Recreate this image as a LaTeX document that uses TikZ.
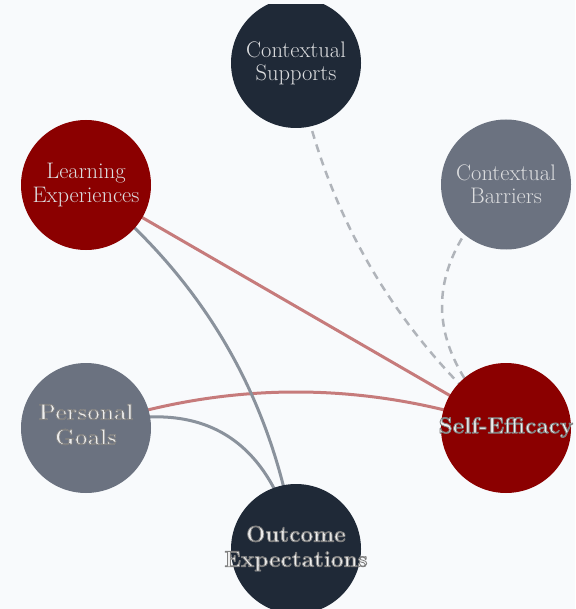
\documentclass[tikz,border=0pt]{standalone}
\definecolor{bg}{HTML}{F8FAFC}
\definecolor{navy}{HTML}{1F2937}
\definecolor{dred}{HTML}{8B0000}
\definecolor{slate}{HTML}{6B7280}
\definecolor{redline}{HTML}{C67B7B}
\definecolor{greyline}{HTML}{8A929C}
\definecolor{dashline}{HTML}{B0B4BA}
\definecolor{txt}{HTML}{DCDDDF}
\definecolor{boldtxt}{HTML}{EEEEEE}
\pgfdeclarelayer{bglayer}
\pgfdeclarelayer{edges}
\pgfsetlayers{bglayer,edges,main}
\newcommand{\haloon}{\special{pdf:literal direct 0.5 0.5 0.5 RG 0.8 w 1 j 2 Tr}}
\newcommand{\halooff}{\special{pdf:literal direct 0 Tr}}
\begin{document}
\begin{tikzpicture}[x=1pt,y=-1pt,
  nodecircle/.style={circle, minimum size=130pt, inner sep=0pt},
  plainlabel/.style={align=center, text=txt, font=\fontsize{22.5}{23.3}\selectfont, inner sep=0pt},
  boldlabel/.style={align=center, text=boldtxt, font=\fontsize{22.5}{25}\selectfont\bfseries, inner sep=0pt},
  redlink/.style={draw=redline, line width=3pt},
  greylink/.style={draw=greyline, line width=3pt},
  dashlink/.style={draw=dashline, line width=2.5pt, dash pattern=on 8pt off 6pt}]
\begin{pgfonlayer}{bglayer}
\fill[bg] (0,0) rectangle (575,609);
\end{pgfonlayer}
\useasboundingbox (0,0) rectangle (575,609);
\clip (0,5) rectangle (575,609);

% circles
\node[nodecircle, fill=navy] (cs) at (296,63) {};
\node[nodecircle, fill=dred]  (le) at (86,185) {};
\node[nodecircle, fill=slate] (cb) at (506,184.5) {};
\node[nodecircle, fill=slate] (pg) at (86,428) {};
\node[nodecircle, fill=dred]  (se) at (506,428) {};
\node[nodecircle, fill=navy] (oe) at (296,549) {};

% labels
\node[plainlabel] (cs-label) at (296,63) {Contextual\\Supports};
\node[plainlabel] (le-label) at (86,185) {Learning\\Experiences};
\node[plainlabel] (cb-label) at (506,184.5) {Contextual\\Barriers};
\node[boldlabel] (pg-label) at (86,424.5) {\haloon Personal\\Goals\halooff};
\node[boldlabel] (se-label) at (506,427.5) {\haloon Self-Efficacy\halooff};
\node[boldlabel] (oe-label) at (296,548.5) {\haloon Outcome\\Expectations\halooff};

% connectors
\begin{pgfonlayer}{edges}
\draw[redlink] (le.center) -- (se.center);
\draw[redlink] (pg.center) .. controls (226,380) and (366,380) .. (se.center);
\draw[greylink] (le.center) .. controls (204,279) and (274,400) .. (oe.center);
\draw[greylink] (pg.center) .. controls (199,395) and (269,435) .. (oe.center);
\draw[dashlink] (cs.center) .. controls (323,209) and (393,331) .. (se.center);
\draw[dashlink] (cb.center) .. controls (420.7,265.5) and (420.7,346.7) .. (se.center);
\end{pgfonlayer}
\end{tikzpicture}
\end{document}
